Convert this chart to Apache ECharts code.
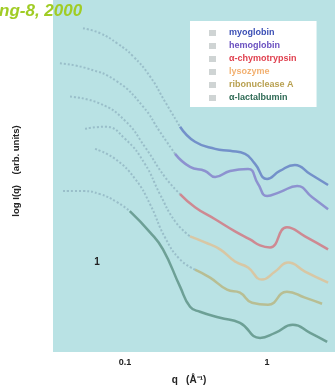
<!DOCTYPE html>
<html>
<head>
<meta charset="utf-8">
<script src="https://cdn.jsdelivr.net/npm/echarts@6/dist/echarts.min.js"></script>
<style>
html,body{margin:0;padding:0;background:#fff;}
#chart{width:335px;height:392px;}
</style>
</head>
<body>
<div id="chart"></div>
<script>
// ---- data (q in 1/Å, log I in arbitrary offset units) ----
const proteins = ['myoglobin','hemoglobin','α-chymotrypsin','lysozyme','ribonuclease A','α-lactalbumin'];
const colors = ['#3b4fb5','#6a50c0','#e0404f','#f2b070','#b8a050','#2f6a55'];

const qMyo = [0.0506,0.0667,0.0879,0.114,0.150,0.191,0.244,0.311,0.431,0.549,0.700,0.823,1.0,1.23,1.57,2.01,2.69];
const yMyo = [32.2,31.7,30.7,29.4,27.4,24.9,22.4,20.9,20.2,20.0,19.7,18.7,17.2,18.0,18.6,17.7,16.6];

const qHem = [0.0348,0.0540,0.0879,0.134,0.176,0.225,0.287,0.366,0.431,0.549,0.735,0.865,1.0,1.23,1.63,2.07,2.69];
const yHem = [28.7,28.2,26.9,24.4,21.9,19.7,18.4,18.0,17.4,18.0,18.2,16.7,15.5,15.9,16.5,15.4,14.2];

const qChy = [0.0410,0.0667,0.100,0.138,0.191,0.244,0.311,0.431,0.595,0.759,0.893,1.05,1.38,1.85,2.69];
const yChy = [25.4,24.7,23.0,20.4,17.4,15.7,14.4,13.2,12.0,11.2,10.6,10.4,12.4,11.5,10.2];

const qLys = [0.0523,0.0723,0.100,0.138,0.176,0.225,0.287,0.366,0.467,0.595,0.735,0.922,1.14,1.41,1.85,2.69];
const yLys = [22.2,22.4,21.2,18.7,15.7,13.0,11.5,10.9,10.2,9.0,8.4,7.2,8.0,8.9,8.0,6.9];

const qRib = [0.0615,0.0851,0.118,0.150,0.191,0.244,0.311,0.397,0.523,0.645,0.784,1.016,1.38,1.85,2.44];
const yRib = [20.2,19.2,17.2,14.7,11.4,9.2,8.2,7.4,6.2,5.9,4.9,4.7,6.0,5.4,4.8];

const qLac = [0.0366,0.0506,0.0667,0.0879,0.108,0.150,0.185,0.244,0.287,0.337,0.467,0.645,0.893,1.14,1.52,2.01,2.65];
const yLac = [16.0,16.0,15.7,14.9,14.0,11.9,10.2,6.5,4.5,4.0,3.4,2.9,1.4,1.9,2.7,1.9,1.0];

// index where the dotted (low-q) part ends and the coloured trace begins
const splitIdx = [6,5,5,6,6,4];

const xTickLabels = ['0.1','1'];
const xTickValues = [0.1,1];

const qs = [qMyo,qHem,qChy,qLys,qRib,qLac];
const ys = [yMyo,yHem,yChy,yLys,yRib,yLac];

const series = [];
proteins.forEach((name,i)=>{
  const pts = qs[i].map((q,j)=>[q,ys[i][j]]);
  const k = splitIdx[i];
  series.push({
    name:name, type:'line', smooth:true, symbol:'none', silent:true,
    data: pts.slice(0,k+1),
    lineStyle:{type:'dotted', width:2, color:'rgba(110,140,165,0.42)'},
    itemStyle:{color:colors[i]}, z:2
  });
  series.push({
    name:name, type:'line', smooth:true, symbol:'none', silent:true,
    data: pts.slice(k),
    lineStyle:{width:2.5, color:colors[i], opacity:0.55},
    itemStyle:{color:colors[i]}, z:3
  });
});

const FONT = '"Liberation Sans", Arial, sans-serif';
const chart = echarts.init(document.getElementById('chart'), null, {renderer:'canvas'});
chart.setOption({
  animation:false,
  backgroundColor:'#ffffff',
  grid:{left:53,right:0,top:0,bottom:40,show:true,backgroundColor:'#b9e2e4',borderWidth:0},
  xAxis:{
    type:'log', logBase:10, min:0.0311, max:3.01,
    axisLine:{show:false}, axisTick:{show:false}, splitLine:{show:false},
    axisLabel:{
      showMinLabel:false, showMaxLabel:false, margin:6,
      fontSize:9, fontWeight:'bold', color:'#222', fontFamily:FONT,
      formatter:function(v){
        for(let t=0;t<xTickValues.length;t++){ if(Math.abs(v-xTickValues[t])<1e-6) return xTickLabels[t]; }
        return '';
      }
    }
  },
  yAxis:{type:'value', min:0, max:35, show:false},
  legend:{
    orient:'vertical', left:190, top:21,
    backgroundColor:'#ffffff', borderWidth:0,
    padding:[7,20,4,19],
    icon:'rect', itemWidth:7, itemHeight:6, itemGap:3,
    itemStyle:{color:'#cfd4d4'},
    textStyle:{fontSize:9, fontWeight:'bold', lineHeight:10, fontFamily:FONT, padding:[0,0,0,8]},
    data: proteins.map((p,i)=>({name:p, textStyle:{color:colors[i]}})),
    selectedMode:false
  },
  graphic:[
    {type:'text', left:-1, top:3, style:{text:'ng-8, 2000', fill:'#a0cc24', font:'italic bold 17px '+FONT}},
    {type:'text', x:16, y:171, rotation:Math.PI/2, style:{text:'log I(q)    (arb. units)', fill:'#222', font:'bold 9.5px '+FONT, align:'center', verticalAlign:'middle'}},
    {type:'text', x:189, y:380, style:{text:'q   (Å⁻¹)', fill:'#222', font:'bold 10px '+FONT, align:'center', verticalAlign:'middle'}},
    {type:'text', x:97, y:262, style:{text:'1', fill:'#222', font:'bold 10px '+FONT, align:'center', verticalAlign:'middle'}}
  ],
  series:series
});
</script>
</body>
</html>
